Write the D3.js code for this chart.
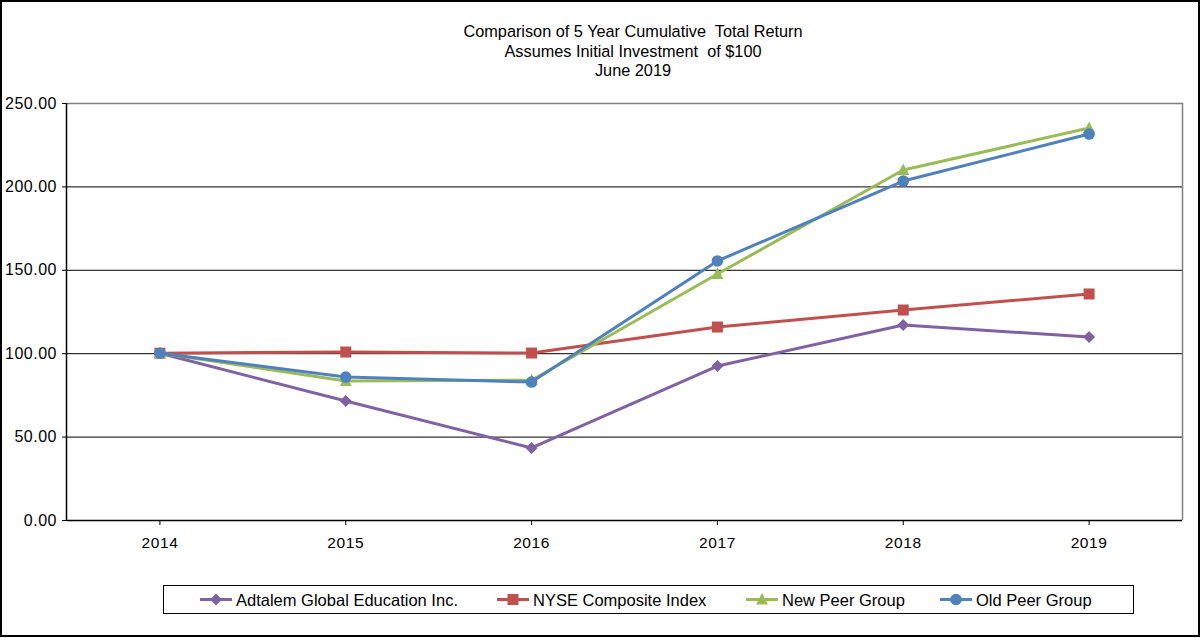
<!DOCTYPE html>
<html><head><meta charset="utf-8">
<script src="https://cdn.jsdelivr.net/npm/d3@7"></script>
<style>
html,body{margin:0;padding:0;background:#fff;}
svg{display:block;font-family:"Liberation Sans",Arial,sans-serif;}
</style></head>
<body>
<svg id="c" width="1201" height="638"></svg>
<script>
const titleLines = ["Comparison of 5 Year Cumulative  Total Return", "Assumes Initial Investment  of $100", "June 2019"];
const years = ["2014","2015","2016","2017","2018","2019"];
const yTicks = [0,50,100,150,200,250];
const seriesNames = ["Adtalem Global Education Inc.","NYSE Composite Index","New Peer Group","Old Peer Group"];
const adtalem = [100, 71.3, 43.2, 92.3, 116.9, 109.7];
const nyse = [100, 100.7, 100.1, 115.7, 125.9, 135.5];
const newPeer = [100, 83.3, 83.8, 147.5, 209.8, 235.0];
const oldPeer = [100, 85.7, 82.7, 155.3, 203.2, 231.4];
const colors = ["#7F62A1","#C0504D","#9BBB59","#4F81BD"];
const markers = ["diamond","square","triangle","circle"];

const svg = d3.select("#c");
svg.append("rect").attr("x",1).attr("y",1).attr("width",1198).attr("height",635)
  .attr("fill","#fff").attr("stroke","#000").attr("stroke-width",2);

const L=67,R=1182,T=103,B=520;
const x = d3.scaleBand().domain(years).range([L,R]).padding(0);
const cx = d => x(d)+x.bandwidth()/2;
const y = d3.scaleLinear().domain([0,250]).range([B,T]);

// title
svg.append("g").selectAll("text").data(titleLines).join("text")
  .attr("x",633).attr("y",(d,i)=>37+i*19.5).attr("text-anchor","middle")
  .attr("font-size",16.3).attr("fill","#000").style("white-space","pre").text(d=>d);

// grid
svg.append("g").selectAll("line").data(yTicks.filter(v=>v>0&&v<250)).join("line")
  .attr("x1",L).attr("x2",R).attr("y1",d=>y(d)+0.5).attr("y2",d=>y(d)+0.5)
  .attr("stroke","#000").attr("stroke-width",1);
// plot border top/right
svg.append("path").attr("d",`M${L},${T+0.5}H${R+0.5}V${B}`).attr("fill","none").attr("stroke","#808080").attr("stroke-width",1.5);

// y axis
const yAxis = d3.axisLeft(y).tickValues(yTicks).tickFormat(d3.format(".2f")).tickSize(5).tickPadding(5);
const gy = svg.append("g").attr("transform",`translate(${L},0)`).call(yAxis);
gy.select(".domain").attr("stroke","#000").attr("stroke-width",1.5).attr("d",`M-0.5,${T}V${B}`);
gy.selectAll(".tick line").attr("stroke","#000");
gy.selectAll("text").attr("font-size",16).attr("font-family","Liberation Sans, Arial").attr("fill","#000").attr("letter-spacing","0.5");

// x axis
const xAxis = d3.axisBottom(x).tickSize(5).tickPadding(12);
const gx = svg.append("g").attr("transform",`translate(0,${B})`).call(xAxis);
gx.select(".domain").attr("stroke","#000").attr("stroke-width",1.5).attr("d",`M${L},0.5H${R}`);
gx.selectAll(".tick line").attr("stroke","#000");
gx.selectAll("text").attr("font-size",15.5).attr("font-family","Liberation Sans, Arial").attr("fill","#000").attr("letter-spacing","0.6");

function marker(g, type, color, px, py) {
  if (type==="diamond") g.append("path").attr("d",`M${px},${py-6}L${px+6},${py}L${px},${py+6}L${px-6},${py}Z`).attr("fill",color);
  else if (type==="square") g.append("rect").attr("x",px-5.5).attr("y",py-5.5).attr("width",11).attr("height",11).attr("fill",color);
  else if (type==="triangle") g.append("path").attr("d",`M${px},${py-6.5}L${px+6},${py+5}L${px-6},${py+5}Z`).attr("fill",color);
  else g.append("circle").attr("cx",px).attr("cy",py).attr("r",5.8).attr("fill",color);
}

const allSeries = [adtalem,nyse,newPeer,oldPeer];
const line = d3.line().x((d,i)=>cx(years[i])).y(d=>y(d));
allSeries.forEach((vals,k)=>{
  const g = svg.append("g");
  g.append("path").attr("d",line(vals)).attr("fill","none").attr("stroke",colors[k]).attr("stroke-width",3).attr("stroke-linejoin","round");
  vals.forEach((v,i)=>marker(g,markers[k],colors[k],cx(years[i]),y(v)));
});

// legend
svg.append("rect").attr("x",163.5).attr("y",585.5).attr("width",970).attr("height",28).attr("fill","#fff").attr("stroke","#000").attr("stroke-width",1);
const legX = [200,497,746,940];
seriesNames.forEach((n,k)=>{
  const g = svg.append("g");
  g.append("line").attr("x1",legX[k]).attr("x2",legX[k]+32).attr("y1",599.5).attr("y2",599.5).attr("stroke",colors[k]).attr("stroke-width",3);
  marker(g,markers[k],colors[k],legX[k]+16,599.5);
  g.append("text").attr("x",legX[k]+36).attr("y",605.5).attr("font-size",16.5)
    .attr("font-family","Liberation Sans, Arial").attr("fill","#000").text(n);
});
</script>
</body></html>
